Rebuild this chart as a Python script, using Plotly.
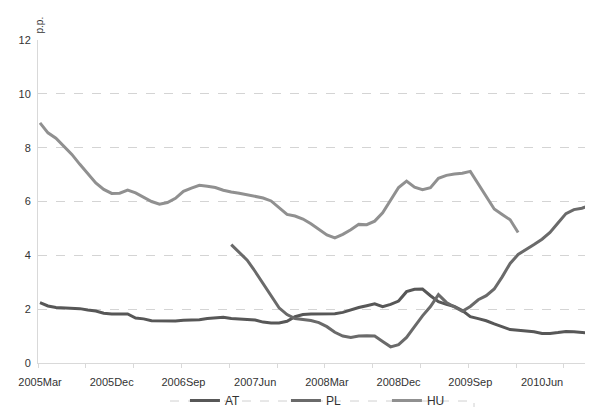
import plotly.graph_objects as go

# Monthly data, 2005Mar .. 2011Jan (index 0..70)
months = ["Jan", "Feb", "Mar", "Apr", "May", "Jun", "Jul", "Aug", "Sep", "Oct", "Nov", "Dec"]
n_points = 71
labels = []
for k in range(n_points):
    m = 2 + k
    labels.append(f"{2005 + m // 12}{months[m % 12]}")

at_values = [2.24, 2.12, 2.06, 2.04, 2.03, 2.02, 1.97, 1.93, 1.85, 1.82,
             1.82, 1.82, 1.67, 1.64, 1.57, 1.56, 1.56, 1.56, 1.59, 1.60,
             1.61, 1.65, 1.68, 1.70, 1.65, 1.64, 1.62, 1.60, 1.52, 1.49,
             1.49, 1.55, 1.72, 1.80, 1.82, 1.82, 1.82, 1.83, 1.88, 1.98,
             2.06, 2.13, 2.20, 2.09, 2.18, 2.30, 2.65, 2.74, 2.75, 2.50,
             2.28, 2.18, 2.10, 1.95, 1.72, 1.65, 1.57, 1.45, 1.33, 1.24,
             1.22, 1.20, 1.16, 1.10, 1.10, 1.13, 1.17, 1.16, 1.14, 1.12,
             1.09]

pl_values = [None] * 24 + [
    4.40, 4.10, 3.82, 3.40, 2.95, 2.50, 2.05, 1.80, 1.65, 1.62,
    1.58, 1.50, 1.35, 1.14, 1.00, 0.95, 1.00, 1.01, 1.00, 0.80,
    0.60, 0.68, 0.95, 1.35, 1.75, 2.10, 2.54, 2.25, 2.10, 1.92,
    2.10, 2.35, 2.50, 2.75, 3.20, 3.70, 4.03, 4.20, 4.40, 4.60,
    4.85, 5.20, 5.55, 5.70, 5.75, 5.85, 5.95]

hu_values = [8.92, 8.55, 8.35, 8.05, 7.75, 7.38, 7.02, 6.69, 6.45, 6.30,
             6.31, 6.42, 6.32, 6.17, 6.00, 5.90, 5.96, 6.12, 6.38, 6.50,
             6.60, 6.57, 6.52, 6.42, 6.35, 6.31, 6.25, 6.19, 6.13, 6.02,
             5.78, 5.52, 5.46, 5.35, 5.17, 4.96, 4.76, 4.65, 4.78, 4.95,
             5.15, 5.14, 5.27, 5.58, 6.07, 6.52, 6.76, 6.53, 6.44, 6.51,
             6.86, 6.97, 7.02, 7.05, 7.12, 6.65, 6.20, 5.72, 5.52, 5.32,
             4.85] + [None] * 10

tick_labels = ["2005Mar", "2005Dec", "2006Sep", "2007Jun", "2008Mar",
               "2008Dec", "2009Sep", "2010Jun"]
y_ticks = [0, 2, 4, 6, 8, 10, 12]

x_idx = list(range(n_points))
tick_pos = [labels.index(t) for t in tick_labels]

font_family = "Liberation Sans, Arial, sans-serif"

fig = go.Figure()
series = [("AT", at_values, "#575757"), ("PL", pl_values, "#6a6a6a"), ("HU", hu_values, "#909090")]
for name, vals, col in series:
    fig.add_trace(go.Scatter(
        x=x_idx, y=vals, name=name, mode="lines",
        line=dict(color=col, width=3),
        connectgaps=False, hoverinfo="skip",
        text=labels,
    ))

fig.update_layout(
    width=593, height=407,
    margin=dict(l=30, r=0, t=32, b=52, autoexpand=False),
    paper_bgcolor="white", plot_bgcolor="white",
    font=dict(family=font_family, size=11, color="#333333"),
    showlegend=True,
    legend=dict(
        orientation="h", x=0.261, xanchor="left", y=-0.161, yanchor="bottom",
        maxheight=60,
        font=dict(size=12, color="#333333"),
        entrywidth=56, entrywidthmode="pixels",
        bgcolor="rgba(0,0,0,0)", borderwidth=0,
        tracegroupgap=0,
    ),
    xaxis=dict(
        range=[-0.25, 70.4],
        tickmode="array", tickvals=tick_pos, ticktext=tick_labels,
        ticks="outside", ticklen=9, tickcolor="rgba(0,0,0,0)",
        showgrid=False, zeroline=False,
        showline=True, linecolor="#d9d9d9", linewidth=1,
        tickfont=dict(size=11, color="#333333"),
        minor=dict(tickmode="linear", tick0=-0.25, dtick=6,
                   ticks="outside", ticklen=4, tickcolor="#d9d9d9", showgrid=False),
    ),
    yaxis=dict(
        range=[0, 12],
        tickmode="array", tickvals=y_ticks,
        ticks="outside", ticklen=4, tickcolor="rgba(0,0,0,0)",
        showgrid=True, gridcolor="#d4d4d4", griddash="dash", gridwidth=1,
        zeroline=False,
        showline=True, linecolor="#d9d9d9", linewidth=1,
        tickfont=dict(size=11, color="#333333"),
    ),
    annotations=[dict(
        text="p.p.", xref="paper", yref="paper",
        x=0.0, y=1.0, xanchor="center", yanchor="bottom",
        yshift=4, xshift=1,
        textangle=-90, showarrow=False,
        font=dict(size=10, color="#333333"),
    )],
    shapes=[dict(
        type="rect", xref="paper", yref="paper",
        x0=(162 - 30) / 563, x1=(466 - 30) / 563,
        y0=-(393 - 355) / 323, y1=-(430 - 355) / 323,
        line=dict(color="#d0d0d0", width=1, dash="dash"),
        fillcolor="rgba(0,0,0,0)", layer="below",
    )],
)

fig.write_html("out.html")
